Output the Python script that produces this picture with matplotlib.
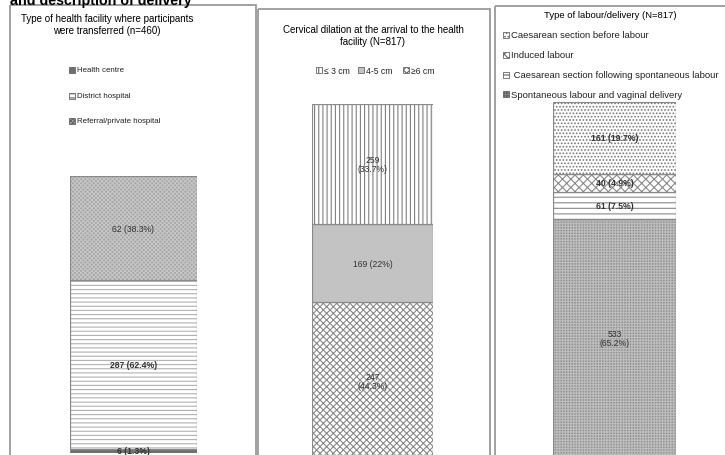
import matplotlib
matplotlib.use('Agg')
import matplotlib.pyplot as plt
from matplotlib.patches import Rectangle

plt.rcParams['font.family'] = ['Liberation Sans', 'DejaVu Sans']
plt.rcParams['hatch.linewidth'] = 0.8

W, H = 725, 456

# panel 1: type of facility (stacked bottom -> top)
facility_labels = ['Health centre', 'District hospital', 'Referral/private hospital']
facility_counts = [6, 287, 62]
facility_pct = [1.3, 62.4, 38.3]

# panel 2: cervical dilation (stacked bottom -> top)
dilation_labels = ['\u22656 cm', '4-5 cm', '\u2264 3 cm']
dilation_counts = [247, 169, 259]
dilation_pct = [44.3, 22, 33.7]

# panel 3: type of labour (stacked bottom -> top)
labour_labels = ['Spontaneous labour and vaginal delivery',
                 ' Caesarean section following spontaneous labour',
                 'Induced labour',
                 'Caesarean section before labour']
labour_counts = [533, 61, 40, 161]
labour_pct = [65.2, 7.5, 4.9, 19.7]


def px_rect(x0, y0, x1, y1):
    return [x0 / W, 1 - y1 / H, (x1 - x0) / W, (y1 - y0) / H]


fig = plt.figure(figsize=(W / 100, H / 100), dpi=100)

# overlay in pixel coords for frames, titles and legends
ov = fig.add_axes([0, 0, 1, 1])
ov.set_xlim(0, W)
ov.set_ylim(H, 0)
ov.axis('off')

for x0, y0, x1 in [(10, 6, 256), (258, 10, 490), (495, 7, 740)]:
    ov.add_patch(Rectangle((x0, y0), x1 - x0, 500, fill=False,
                           edgecolor='#9a9a9a', linewidth=1.3))

# heading of the source figure, cut by the top edge
ov.text(10, 4.5, 'and description of delivery', fontsize=10.3, fontweight='bold',
        va='baseline', ha='left')

ov.text(107, 25, 'Type of health facility where participants\nwere transferred (n=460)',
        fontsize=7, ha='center', va='center', linespacing=1.15)
ov.text(373, 36, 'Cervical dilation at the arrival to the health\nfacility (N=817)',
        fontsize=7, ha='center', va='center', linespacing=1.15)
ov.text(610, 16, 'Type of labour/delivery (N=817)', fontsize=6.8, ha='center', va='center')


def stacked(rect, ymax, pct, counts, styles, wrap, bold):
    ax = fig.add_axes(px_rect(*rect))
    ax.set_facecolor('none')
    bottom = 0
    for p, n, st, wr, bd in zip(pct, counts, styles, wrap, bold):
        ax.bar(0, p, width=1, bottom=bottom, color=st[0], hatch=st[1],
               edgecolor=st[2], linewidth=0)
        ax.bar(0, p, width=1, bottom=bottom, fill=False, edgecolor='#8a8a8a',
               linewidth=0.9)
        sep = '\n' if wr else ' '
        txt = f'{n}{sep}({p:g}%)'
        ax.text(0, bottom + p / 2 if p > 3 else bottom + 0.9, txt, ha='center',
                va='center', fontsize=6.2, color='#333333',
                fontweight='bold' if bd else 'normal', linespacing=1.1)
        bottom += p
    ax.set_xlim(-0.5, 0.5)
    ax.set_ylim(0, ymax)
    ax.axis('off')
    return ax


fac_styles = [('#6e6e6e', None, '#6e6e6e'),
              ('white', '----', '#b0b0b0'),
              ('#a4a4a4', 'xxxxxxxx', '#c6c6c6')]
dil_styles = [('white', 'xxxxx', '#8a8a8a'),
              ('#c3c3c3', None, '#c3c3c3'),
              ('white', '||||', '#808080')]
lab_styles = [('#959595', '++++++', '#bdbdbd'),
              ('white', '---', '#8a8a8a'),
              ('white', 'xxxx', '#8a8a8a'),
              ('white', '.....', '#777777')]

stacked((70, 177, 197, 454), sum(facility_pct), facility_pct, facility_counts,
        fac_styles, [False] * 3, [True, True, False])
stacked((312, 105, 433, 461), 100, dilation_pct, dilation_counts,
        dil_styles, [True, False, True], [False] * 3)
stacked((553, 103, 676, 458), sum(labour_pct), labour_pct, labour_counts,
        lab_styles, [True, False, False, False], [False, True, True, True])


def legend_item(x, y, label, st, size):
    ov.add_patch(Rectangle((x, y - 3), 6, 6, facecolor=st[0], hatch=st[1],
                           edgecolor='#666666', linewidth=0.6))
    ov.text(x + 8, y, label, fontsize=size, va='center', ha='left', color='#222222')


for y, lab, st in zip([71, 97, 122], facility_labels, fac_styles):
    legend_item(69, y, lab, st, 5.7)

for x, lab, st in zip([403, 358, 316], dilation_labels, dil_styles):
    legend_item(x, 71, lab, st, 6.2)

for y, lab, st in zip([95, 76, 56, 36], labour_labels, lab_styles):
    legend_item(503, y, lab, st, 6.8)

fig.savefig('out.png', dpi=100)
